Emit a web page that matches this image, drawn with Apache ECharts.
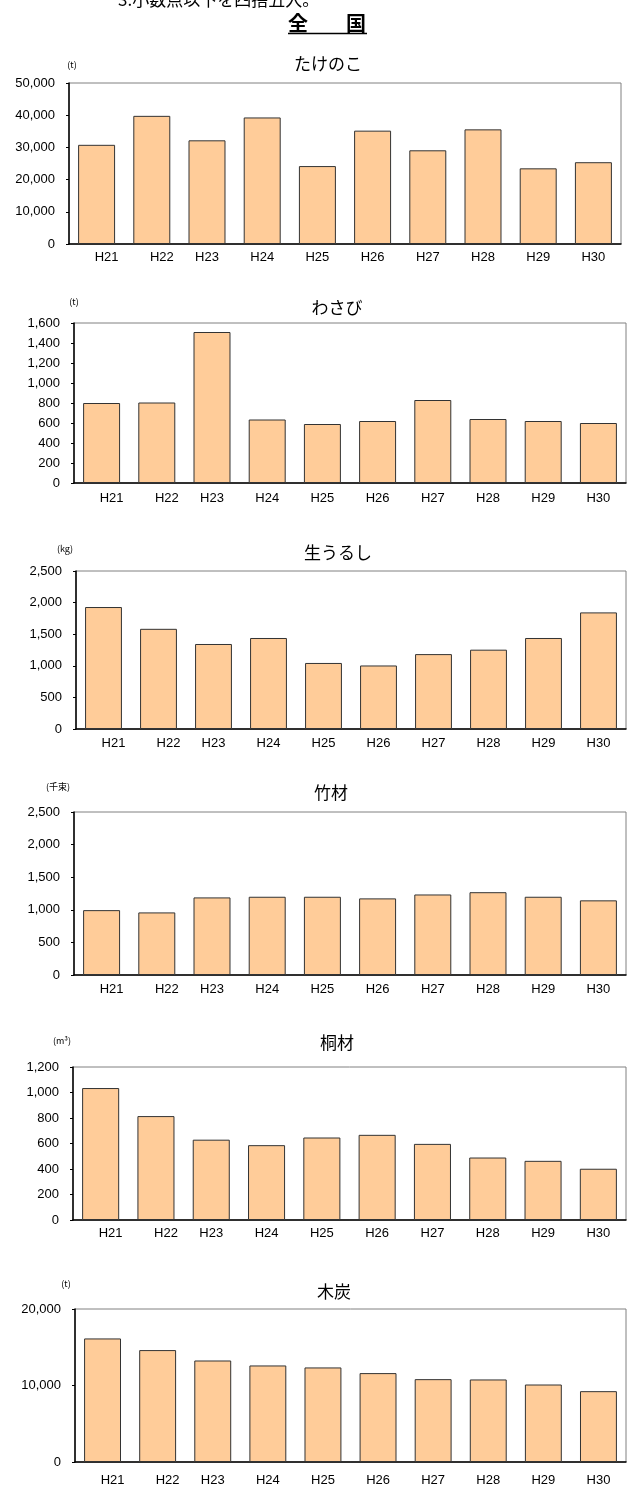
<!DOCTYPE html>
<html><head><meta charset="utf-8">
<script src="https://cdn.jsdelivr.net/npm/echarts@6/dist/echarts.min.js"></script>
<style>html,body{margin:0;padding:0;background:#fff}#c{width:627px;height:1487px}</style>
</head><body><div id="c"></div>
<script>
const categories = ['H21','H22','H23','H24','H25','H26','H27','H28','H29','H30'];
const takenoko = [30800, 39800, 32200, 39300, 24200, 35200, 29100, 35600, 23500, 25400];
const wasabi   = [800, 805, 1510, 635, 590, 620, 830, 640, 620, 600];
const kiurushi = [1930, 1585, 1345, 1440, 1045, 1005, 1185, 1255, 1440, 1845];
const chikuzai = [995, 960, 1190, 1200, 1200, 1175, 1235, 1270, 1200, 1145];
const kirizai  = [1035, 815, 630, 587, 647, 668, 597, 490, 464, 402];
const mokutan  = [16150, 14630, 13270, 12620, 12360, 11620, 10830, 10790, 10130, 9260];
const chartTitles = ['たけのこ','わさび','生うるし','竹材','桐材','木炭'];
const unitLabels = ['(t)','(t)','(kg)','(千束)','(m³)','(t)'];
const yMaxes = [50000, 1600, 2500, 2500, 1200, 20000];
const yIntervals = [10000, 200, 500, 500, 200, 10000];
const headerText = '3.小数点以下を四捨五入。';
const mainTitle = ['全','国'];

const seriesData = [takenoko, wasabi, kiurushi, chikuzai, kirizai, mokutan];

// layout (pixel geometry)
const grids = [
  {l:69, t:83,   r:621, b:244,  xm:7,  tx:328, ty:64,   ux:72, uy:65},
  {l:74, t:323,  r:626, b:483,  xm:9,  tx:337, ty:308,  ux:74, uy:302},
  {l:76, t:571,  r:626, b:729,  xm:8,  tx:338, ty:553,  ux:65, uy:549},
  {l:74, t:812,  r:626, b:975,  xm:8,  tx:331, ty:793,  ux:58, uy:787},
  {l:73, t:1067, r:626, b:1220, xm:7,  tx:337, ty:1043, ux:62, uy:1041},
  {l:75, t:1309, r:626, b:1462, xm:12, tx:334, ty:1292, ux:66, uy:1284}
];
const W = 627, H = 1487;
const numFont = "'Liberation Sans', Arial, sans-serif";
const jpFont = "'Noto Sans CJK JP', sans-serif";

const option = {
  animation: false,
  backgroundColor: '#fff',
  grid: grids.map(g => ({
    left: g.l, top: g.t, width: g.r - g.l, height: g.b - g.t,
    show: true, borderColor: '#808080', borderWidth: 1, backgroundColor: 'transparent'
  })),
  xAxis: grids.map((g, i) => ({
    type: 'category', gridIndex: i, data: categories,
    axisLine: {lineStyle: {color: '#000', width: 1.5}},
    axisTick: {show: false},
    axisLabel: {
      interval: 0,
      color: '#000', fontSize: 13, fontFamily: numFont, margin: g.xm,
      formatter: (v, idx) => idx < 2 ? '{s|' + v + '}' : v,
      rich: {s: {padding: [0, 0, 0, 20], fontSize: 13, fontFamily: numFont, color: '#000'}}
    },
    splitLine: {show: false}
  })),
  yAxis: grids.map((g, i) => ({
    type: 'value', gridIndex: i, min: 0, max: yMaxes[i], interval: yIntervals[i],
    axisLine: {show: true, lineStyle: {color: '#000', width: 1.5}},
    axisTick: {show: true, length: 3, lineStyle: {color: '#000'}},
    axisLabel: {
      color: '#000', fontSize: 13, fontFamily: numFont, margin: 14,
      formatter: v => v.toLocaleString('en-US')
    },
    splitLine: {show: false}
  })),
  series: seriesData.map((d, i) => ({
    type: 'bar', xAxisIndex: i, yAxisIndex: i, data: d,
    barCategoryGap: '33%',
    itemStyle: {color: '#FFCC99', borderColor: '#333', borderWidth: 1}
  })),
  graphic: [
    {type: 'text', left: 118, top: -9, style: {text: headerText, font: "17px " + jpFont, fill: '#000'}},
    {type: 'text', x: 327, y: 23, style: {
      text: '{a|' + mainTitle[0] + '}{g|　}{a|' + mainTitle[1] + '}',
      textAlign: 'center', textVerticalAlign: 'middle',
      rich: {a: {fontSize: 20, fontFamily: jpFont, fontWeight: 'bold', fill: '#000', color: '#000'},
             g: {fontSize: 20, width: 38, fontFamily: jpFont}}
    }},
    {type: 'line', shape: {x1: 288, y1: 33.5, x2: 367, y2: 33.5}, style: {stroke: '#000', lineWidth: 1.5}},
    ...grids.map((g, i) => ({
      type: 'text', x: g.tx, y: g.ty,
      style: {text: chartTitles[i], font: "17px " + jpFont, fill: '#000', textAlign: 'center', textVerticalAlign: 'middle'}
    })),
    ...grids.map((g, i) => ({
      type: 'text', x: g.ux, y: g.uy,
      style: {text: unitLabels[i], font: "9px " + jpFont, fill: '#000', textAlign: 'center', textVerticalAlign: 'middle'}
    }))
  ]
};
const chart = echarts.init(document.getElementById('c'), null, {renderer: 'canvas', width: W, height: H});
chart.setOption(option);
</script>
</body></html>
